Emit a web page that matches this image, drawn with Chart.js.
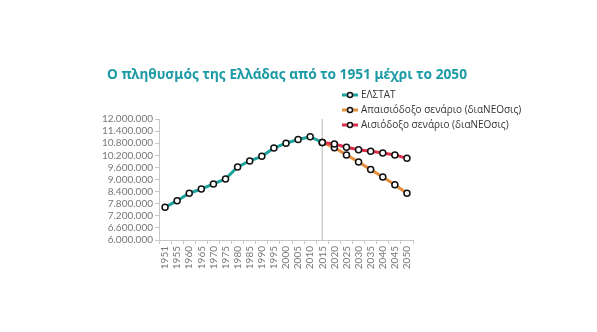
<!DOCTYPE html>
<html>
<head>
<meta charset="utf-8">
<script src="https://cdn.jsdelivr.net/npm/chart.js@4.4.1/dist/chart.umd.min.js"></script>
<style>
    html, body { margin: 0; padding: 0; background: #fff; }
    #wrap { position: relative; width: 597px; height: 332px; }
</style>
</head>
<body>
<div id="wrap"><canvas id="popChart" width="597" height="332"></canvas></div>
<script>
// Data
const years = ['1951', '1955', '1960', '1965', '1970', '1975', '1980', '1985', '1990', '1995', '2000',
    '2005', '2010', '2015', '2020', '2025', '2030', '2035', '2040', '2045', '2050'];
const elstat = [7620000, 7950000, 8320000, 8530000, 8780000, 9030000, 9620000, 9920000, 10150000,
    10560000, 10800000, 10980000, 11120000, 10840000, null, null, null, null, null, null, null];
const pessimistic = [null, null, null, null, null, null, null, null, null, null, null, null, null,
    10840000, 10580000, 10220000, 9870000, 9490000, 9120000, 8740000, 8320000];
const optimistic = [null, null, null, null, null, null, null, null, null, null, null, null, null,
    10840000, 10760000, 10600000, 10480000, 10400000, 10310000, 10220000, 10050000];
const seriesNames = ['ΕΛΣΤΑΤ', 'Απαισιόδοξο σενάριο (διαNEOσις)', 'Αισιόδοξο σενάριο (διαNEOσις)'];
const yMin = 6000000, yMax = 12000000, yStep = 600000;
const splitYear = '2015';

const TEAL = '#1ea39f';
const ORANGE = '#e5903f';
const RED = '#dc2e48';

function fmt(v) {
    return String(v).replace(/\B(?=(\d{3})+(?!\d))/g, '.');
}

// title, legend and the 2015 divider
const extras = {
    id: 'extras',
    beforeDatasetsDraw(chart) {
        const ctx = chart.ctx;
        const x = chart.scales.x.getPixelForValue(years.indexOf(splitYear));
        ctx.save();
        ctx.strokeStyle = '#cfcfcf';
        ctx.lineWidth = 1.5;
        ctx.beginPath();
        ctx.moveTo(x, chart.chartArea.top);
        ctx.lineTo(x, chart.chartArea.bottom);
        ctx.stroke();
        ctx.restore();
    },
    afterDraw(chart) {
        const ctx = chart.ctx;
        ctx.save();
        ctx.fillStyle = '#1c9ba4';
        ctx.font = 'bold 15px "Noto Sans"';
        ctx.textBaseline = 'alphabetic';
        ctx.fillText('Ο πληθυσμός της Ελλάδας από το 1951 μέχρι το 2050', 107, 79, 360);

        const colors = [TEAL, ORANGE, RED];
        const rows = [95, 110, 125];
        ctx.font = '10px "Open Sans"';
        ctx.textBaseline = 'middle';
        rows.forEach((y, i) => {
            ctx.strokeStyle = colors[i];
            ctx.lineWidth = 3;
            ctx.beginPath();
            ctx.moveTo(342, y);
            ctx.lineTo(358, y);
            ctx.stroke();
            ctx.fillStyle = '#fff';
            ctx.strokeStyle = '#111';
            ctx.lineWidth = 1.5;
            ctx.beginPath();
            ctx.arc(350, y, 2.5, 0, Math.PI * 2);
            ctx.fill();
            ctx.stroke();
            ctx.fillStyle = '#333';
            ctx.fillText(seriesNames[i], 361, y, 164);
        });
        ctx.restore();
    }
};

function lineSet(label, data, color, order) {
    return {
        label: label,
        data: data,
        borderColor: color,
        backgroundColor: color,
        borderWidth: 3,
        pointRadius: 3,
        pointBorderWidth: 1.5,
        pointBorderColor: '#111',
        pointBackgroundColor: '#fff',
        tension: 0,
        spanGaps: false,
        order: order
    };
}

new Chart(document.getElementById('popChart'), {
    type: 'line',
    data: {
        labels: years,
        datasets: [
            lineSet(seriesNames[0], elstat, TEAL, 0),
            lineSet(seriesNames[1], pessimistic, ORANGE, 2),
            lineSet(seriesNames[2], optimistic, RED, 1)
        ]
    },
    options: {
        responsive: false,
        animation: false,
        layout: { padding: { left: 89, right: 184, top: 119, bottom: 52 } },
        plugins: {
            legend: { display: false },
            tooltip: { enabled: false }
        },
        scales: {
            x: {
                offset: true,
                grid: { display: true, drawOnChartArea: false, offset: true, tickLength: 4, color: '#c8c8c8' },
                border: { color: '#c8c8c8', width: 1 },
                ticks: {
                    color: '#777',
                    font: { family: 'Lato', size: 10 },
                    minRotation: 90,
                    maxRotation: 90,
                    autoSkip: false,
                    padding: 2
                },
                afterFit(scale) { scale.height = 40; }
            },
            y: {
                min: yMin,
                max: yMax,
                grid: { display: true, drawOnChartArea: false, tickLength: 4, color: '#c8c8c8' },
                border: { color: '#c8c8c8', width: 1 },
                ticks: {
                    stepSize: yStep,
                    autoSkip: false,
                    color: '#777',
                    font: { family: 'Lato', size: 10 },
                    padding: 2,
                    callback: v => fmt(v)
                },
                afterFit(scale) { scale.width = 70; }
            }
        }
    },
    plugins: [extras]
});
</script>
</body>
</html>
